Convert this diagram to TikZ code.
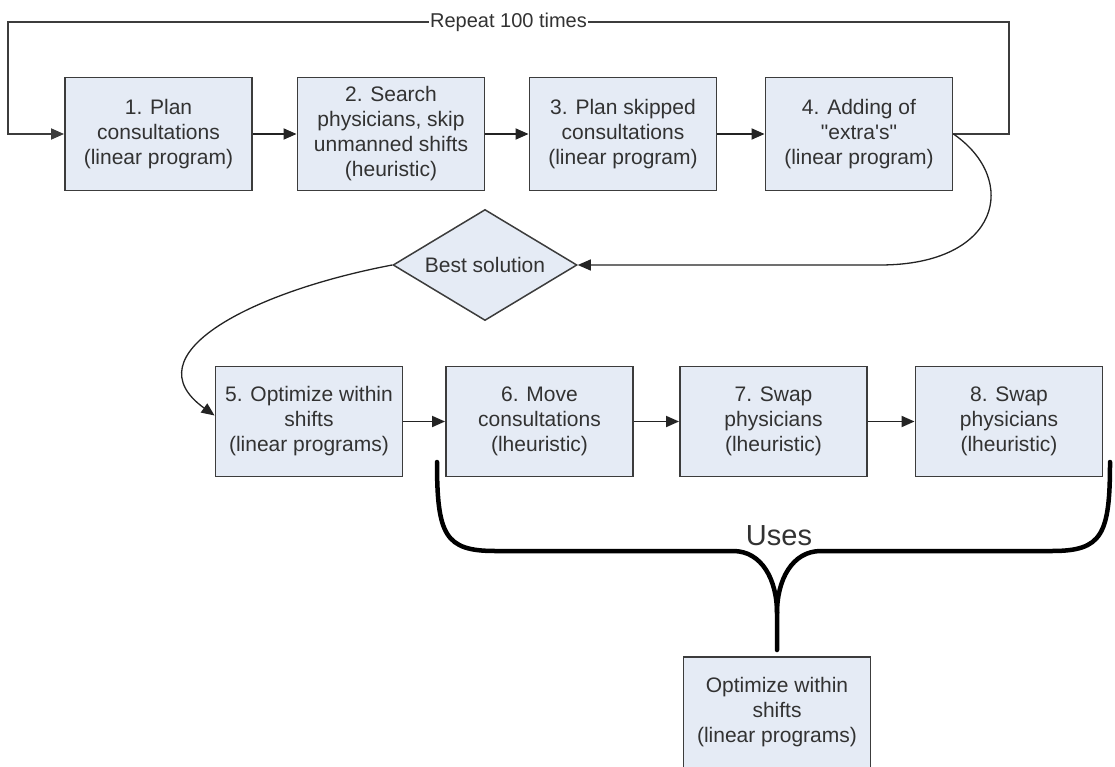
\documentclass[tikz,border=0pt]{standalone}
\usepackage{fontspec}
\setmainfont{Liberation Sans}[Ligatures=TeXOff]
\usetikzlibrary{arrows.meta,shapes.geometric,calc}
\definecolor{boxfill}{RGB}{229,235,245}
\definecolor{boxline}{RGB}{60,60,60}
\definecolor{txt}{RGB}{50,50,50}
\definecolor{conncol}{RGB}{35,35,35}
\begin{document}
\begin{tikzpicture}[x=1pt,y=-1pt,
  stepbox/.style={draw=boxline, line width=1.9pt, fill=boxfill, minimum width=187pt,
    minimum height=113pt, align=center, text=txt, inner sep=2pt,
    font=\fontsize{21}{25}\selectfont},
  conn/.style={draw=conncol, line width=1.8pt},
  arr/.style={conn, -{Triangle[length=13pt,width=11pt]}},
  lbl/.style={fill=white, inner xsep=1pt, inner ysep=2pt, text=txt,
    font=\fontsize{20}{24}\selectfont},
  brace/.style={draw=black, line width=4.5pt, line cap=round, line join=round}]
\useasboundingbox (0,0) rectangle (1115,767);
% top row
\node[stepbox] (b1) at (158.5,134) {1. Plan\\consultations\\(linear program)};
\node[stepbox] (b2) at (391,134) {2. Search\\physicians, skip\\unmanned shifts\\(heuristic)};
\node[stepbox] (b3) at (623,134) {3. Plan skipped\\consultations\\(linear program)};
\node[stepbox] (b4) at (859,134) {4. Adding of\\"extra's"\\(linear program)};
% diamond
\node[shape=diamond, draw=boxline, fill=boxfill, line width=1.5pt, aspect=1.66,
  minimum width=184pt, minimum height=111pt, inner sep=0pt, text=txt,
  font=\fontsize{21}{25}\selectfont] (dia) at (485,265) {Best solution};
% second row
\node[stepbox, minimum height=110pt] (b5) at (309,421.5) {5. Optimize within\\shifts\\(linear programs)};
\node[stepbox, minimum height=110pt] (b6) at (539.5,421.5) {6. Move\\consultations\\(lheuristic)};
\node[stepbox, minimum height=110pt] (b7) at (773.5,421.5) {7. Swap\\physicians\\(lheuristic)};
\node[stepbox, minimum height=110pt] (b8) at (1009,421.5) {8. Swap\\physicians\\(lheuristic)};
% bottom box
\node[stepbox, minimum height=111pt] (b9) at (777,712.5) {Optimize within\\shifts\\(linear programs)};
% row arrows
\draw[arr] (b1) -- (b2);
\draw[arr] (b2) -- (b3);
\draw[arr] (b3) -- (b4);
\draw[arr] (b5) -- (b6);
\draw[arr] (b6) -- (b7);
\draw[arr] (b7) -- (b8);
% repeat loop
\coordinate (c1) at (1009,134);
\coordinate (c2) at (1009,22);
\coordinate (c3) at (8,22);
\coordinate (c4) at (8,134);
\draw[arr, draw=boxline] (b4.east) -- (c1) -- (c2) -- node[lbl] {Repeat 100 times} (c3) -- (c4) -- (b1.west);
% curve from box 4 to diamond
\draw[arr, line width=1.3pt] (b4.east) .. controls (1020,180) and (1000,265) .. (880,265) -- (dia.east);
% curve from diamond to box 5
\draw[arr, line width=1.3pt] (dia.west) .. controls (250,292) and (130,355) .. ([yshift=6pt]b5.west);
% brace
\coordinate (bl) at (437,462);
\coordinate (br) at (1110,462);
\coordinate (bt) at (777,650);
\draw[brace] (bl) .. controls (437,535) and (445,551) .. (495,551) -- (733,551)
  .. controls (762,551) and (777,580) .. (777,613) -- (bt);
\draw[brace] (br) .. controls (1110,535) and (1102,551) .. (1052,551) -- (821,551)
  .. controls (792,551) and (777,580) .. (777,613);
\node[text=txt, font=\fontsize{29}{32}\selectfont] (uses) at (779,536) {Uses};
\end{tikzpicture}
\end{document}
